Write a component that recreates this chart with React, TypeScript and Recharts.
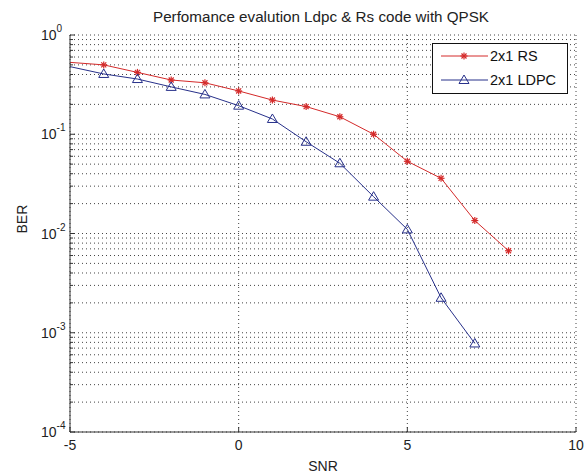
import { LineChart, Line, XAxis, YAxis, CartesianGrid } from 'recharts';

const snr = [-5, -4, -3, -2, -1, 0, 1, 2, 3, 4, 5, 6, 7, 8];
const berRs = [0.53, 0.5, 0.42, 0.352, 0.33, 0.273, 0.221, 0.19, 0.15, 0.1, 0.0534, 0.036, 0.0135, 0.0067];
const berLdpc = [0.48, 0.405, 0.36, 0.3, 0.252, 0.194, 0.1425, 0.084, 0.051, 0.0235, 0.011, 0.00225, 0.00078];
const xTicks = [-5, 0, 5, 10];
const decades = [-4, -3, -2, -1, 0];
const mantissas = [1, 2, 3, 4, 5, 6, 7, 8, 9];

// log axis ticks: every 1..9 x decade, labels only on the decades
const yTicks: number[] = [];
decades.forEach((d) => {
  mantissas.forEach((m) => {
    if (d === 0 && m > 1) return;
    yTicks.push(Number((m * Math.pow(10, d)).toPrecision(3)));
  });
});

const data = snr.map((x, i) => ({ snr: x, rs: berRs[i], ldpc: berLdpc[i] }));

const RED = '#d42a2a';
const BLUE = '#27308a';
const FONT = 'Liberation Sans, Arial, sans-serif';

const Star = (props: any) => {
  const { cx, cy, index } = props;
  if (cx == null || cy == null || index === 0) return null;
  const r = 3.5;
  const d = r * 0.72;
  return (
    <g stroke={RED} strokeWidth={1.2}>
      <line x1={cx - r} y1={cy} x2={cx + r} y2={cy} />
      <line x1={cx} y1={cy - r} x2={cx} y2={cy + r} />
      <line x1={cx - d} y1={cy - d} x2={cx + d} y2={cy + d} />
      <line x1={cx - d} y1={cy + d} x2={cx + d} y2={cy - d} />
    </g>
  );
};

const Tri = (props: any) => {
  const { cx, cy, index } = props;
  if (cx == null || cy == null || index === 0) return null;
  return (
    <polygon
      points={`${cx},${cy - 5} ${cx + 5},${cy + 3.5} ${cx - 5},${cy + 3.5}`}
      fill="none"
      stroke={BLUE}
      strokeWidth={1}
    />
  );
};

const YTick = (props: any) => {
  const { x, y, payload } = props;
  const v = payload.value;
  const exp = Math.round(Math.log10(v));
  const isDecade = Math.abs(v - Math.pow(10, exp)) < 1e-12;
  const axisX = x + 7;
  return (
    <g>
      <line x1={axisX} y1={y} x2={axisX + (isDecade ? 5 : 3)} y2={y} stroke="#333" />
      {isDecade && (
        <text x={axisX - 29} y={y} dy={5} fontSize={14} fill="#222" fontFamily={FONT}>
          10
          <tspan dy={-8} fontSize={10}>{exp}</tspan>
        </text>
      )}
    </g>
  );
};

const XTick = (props: any) => {
  const { x, y, payload } = props;
  const axisY = y - 8;
  return (
    <g>
      <line x1={x} y1={axisY} x2={x} y2={axisY - 5} stroke="#333" />
      <text x={x} y={y} dy={10} textAnchor="middle" fontSize={14} fill="#222" fontFamily={FONT}>
        {payload.value}
      </text>
    </g>
  );
};

const LegendBox = () => {
  const rows = [
    { label: '2x1 RS', color: RED, Marker: Star },
    { label: '2x1 LDPC', color: BLUE, Marker: Tri },
  ];
  return (
    <svg width={136} height={51} style={{ position: 'absolute', left: 432, top: 43, display: 'block' }}>
      <rect x={0.5} y={0.5} width={135} height={50} fill="#fff" stroke="#111" />
      {rows.map((r, i) => {
        const cy = 13 + i * 24;
        return (
          <g key={r.label}>
            <line x1={9} y1={cy} x2={56} y2={cy} stroke={r.color} strokeWidth={1} />
            <r.Marker cx={32} cy={cy} />
            <text x={58} y={cy} dy={5} fontSize={14.5} fill="#111" fontFamily={FONT}>
              {r.label}
            </text>
          </g>
        );
      })}
    </svg>
  );
};

export default function App() {
  return (
    <div style={{ position: 'absolute', left: 0, top: 0, width: 587, height: 473, background: '#fff' }}>
      <div
        style={{
          position: 'absolute',
          left: 0,
          width: 642,
          top: 8,
          textAlign: 'center',
          fontFamily: FONT,
          fontSize: 15.2,
          lineHeight: '18px',
          color: '#222',
        }}
      >
        Perfomance evalution Ldpc &amp; Rs code with QPSK
      </div>
      <LineChart width={587} height={473} data={data} margin={{ top: 35, right: 11, bottom: 0, left: 0 }}>
        <CartesianGrid stroke="#444" strokeDasharray="1 3" strokeWidth={1} horizontal vertical />
        <XAxis
          dataKey="snr"
          type="number"
          domain={[-5, 10]}
          ticks={xTicks}
          height={41}
          tickSize={0}
          tickMargin={8}
          axisLine={{ stroke: '#333' }}
          tick={<XTick />}
          label={{ value: 'SNR', position: 'insideBottom', offset: 2, fontSize: 14, fill: '#222', fontFamily: FONT }}
        />
        <XAxis xAxisId="top" orientation="top" dataKey="snr" type="number" domain={[-5, 10]} height={0} tick={false} tickLine={false} axisLine={{ stroke: '#333' }} />
        <YAxis
          type="number"
          scale="log"
          domain={[0.0001, 1]}
          allowDataOverflow
          ticks={yTicks}
          interval={0}
          width={70}
          tickSize={0}
          tickMargin={7}
          axisLine={{ stroke: '#333' }}
          tick={<YTick />}
          label={{ value: 'BER', angle: -90, position: 'insideLeft', offset: 22, fontSize: 14, fill: '#222', fontFamily: FONT }}
        />
        <YAxis yAxisId="right" orientation="right" width={0} tick={false} tickLine={false} axisLine={{ stroke: '#333' }} />
        <Line dataKey="rs" stroke={RED} strokeWidth={1} dot={<Star />} isAnimationActive={false} />
        <Line dataKey="ldpc" stroke={BLUE} strokeWidth={1} dot={<Tri />} isAnimationActive={false} />
      </LineChart>
      <LegendBox />
    </div>
  );
}
